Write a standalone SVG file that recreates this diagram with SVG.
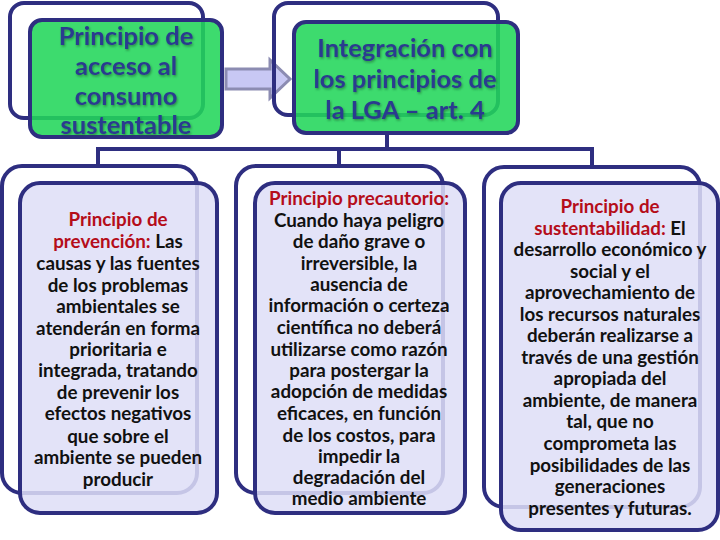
<svg xmlns="http://www.w3.org/2000/svg" width="720" height="540" viewBox="0 0 720 540">
<defs>
<style>
.back{fill:none;stroke:#2e2e80;stroke-width:4}
.green{fill:#22d65a;fill-opacity:0.88;stroke:#2e2e80;stroke-width:4}
.lav{fill:#dedef7;fill-opacity:0.86;stroke:#2e2e80;stroke-width:4}
.conn{fill:none;stroke:#2e2e80;stroke-width:4}
.ht{font-family:Lato,"Liberation Sans",sans-serif;font-weight:bold;font-size:25.5px;fill:#2a3b8f;text-anchor:middle}
.bt{font-family:Lato,"Liberation Sans",sans-serif;font-weight:bold;font-size:18.8px;fill:#111;text-anchor:middle}
.red{fill:#b50d1a}
</style>
<filter id="sh" x="-10%" y="-10%" width="120%" height="130%">
<feDropShadow dx="1" dy="1.5" stdDeviation="0.8" flood-color="#1a5c2a" flood-opacity="0.6"/>
</filter>
</defs>
<rect width="720" height="540" fill="#ffffff"/>

<g id="connectors">
<polyline class="conn" points="387,133 387,149"/>
<polyline class="conn" points="98,166 98,149 592,149 592,166"/>
<polyline class="conn" points="339,149 339,166"/>
<path d="M226,69 H270 V60 L290,79 L270,98 V89 H226 Z" fill="#c8c8f4" stroke="#8c8cb2" stroke-width="3" stroke-linejoin="miter"/>
</g>

<g id="node-acceso">
<rect class="back" x="10" y="3" width="193" height="115" rx="14"/>
<rect class="green" x="30" y="20" width="192" height="117" rx="12"/>
<g filter="url(#sh)">
<text class="ht" x="126" y="45">Principio de</text>
<text class="ht" x="126" y="75">acceso al</text>
<text class="ht" x="126" y="105">consumo</text>
<text class="ht" x="126" y="134">sustentable</text>
</g>
</g>

<g id="node-integracion">
<rect class="back" x="274" y="3" width="224" height="112" rx="14"/>
<rect class="green" x="294" y="22" width="224" height="111" rx="12"/>
<g filter="url(#sh)">
<text class="ht" x="405" y="57">Integración con</text>
<text class="ht" x="405" y="88">los principios de</text>
<text class="ht" x="405" y="119">la LGA – art. 4</text>
</g>
</g>

<g id="node-prevencion">
<rect class="back" x="2" y="166" width="195" height="327" rx="20"/>
<rect class="lav" x="20" y="183" width="197" height="330" rx="20"/>
<text class="bt red" x="118" y="226">Principio de</text>
<text class="bt" x="118" y="248"><tspan class="red">prevención:</tspan> Las</text>
<text class="bt" x="118" y="270">causas y las fuentes</text>
<text class="bt" x="118" y="292">de los problemas</text>
<text class="bt" x="118" y="313">ambientales se</text>
<text class="bt" x="118" y="335">atenderán en forma</text>
<text class="bt" x="118" y="356">prioritaria e</text>
<text class="bt" x="118" y="377">integrada, tratando</text>
<text class="bt" x="118" y="399">de prevenir los</text>
<text class="bt" x="118" y="420">efectos negativos</text>
<text class="bt" x="118" y="443">que sobre el</text>
<text class="bt" x="118" y="464">ambiente se pueden</text>
<text class="bt" x="118" y="486">producir</text>
</g>

<g id="node-precautorio">
<rect class="back" x="236" y="166" width="207" height="327" rx="20"/>
<rect class="lav" x="255" y="183" width="210" height="330" rx="20"/>
<text class="bt red" x="359" y="205">Principio precautorio:</text>
<text class="bt" x="359" y="227">Cuando haya peligro</text>
<text class="bt" x="359" y="248">de daño grave o</text>
<text class="bt" x="359" y="270">irreversible, la</text>
<text class="bt" x="359" y="291">ausencia de</text>
<text class="bt" x="359" y="312">información o certeza</text>
<text class="bt" x="359" y="334">científica no deberá</text>
<text class="bt" x="359" y="356">utilizarse como razón</text>
<text class="bt" x="359" y="377">para postergar la</text>
<text class="bt" x="359" y="398">adopción de medidas</text>
<text class="bt" x="359" y="420">eficaces, en función</text>
<text class="bt" x="359" y="442">de los costos, para</text>
<text class="bt" x="359" y="463">impedir la</text>
<text class="bt" x="359" y="484">degradación del</text>
<text class="bt" x="359" y="505">medio ambiente</text>
</g>

<g id="node-sustentabilidad">
<rect class="back" x="484" y="167" width="216" height="340" rx="20"/>
<rect class="lav" x="501" y="183" width="217" height="347" rx="20"/>
<text class="bt red" x="610" y="213">Principio de</text>
<text class="bt" x="610" y="235"><tspan class="red">sustentabilidad:</tspan> El</text>
<text class="bt" x="610" y="256">desarrollo económico y</text>
<text class="bt" x="610" y="278">social y el</text>
<text class="bt" x="610" y="299">aprovechamiento de</text>
<text class="bt" x="610" y="321">los recursos naturales</text>
<text class="bt" x="610" y="342">deberán realizarse a</text>
<text class="bt" x="610" y="364">través de una gestión</text>
<text class="bt" x="610" y="385">apropiada del</text>
<text class="bt" x="610" y="407">ambiente, de manera</text>
<text class="bt" x="610" y="428">tal, que no</text>
<text class="bt" x="610" y="450">comprometa las</text>
<text class="bt" x="610" y="472">posibilidades de las</text>
<text class="bt" x="610" y="493">generaciones</text>
<text class="bt" x="610" y="515">presentes y futuras.</text>
</g>
</svg>
